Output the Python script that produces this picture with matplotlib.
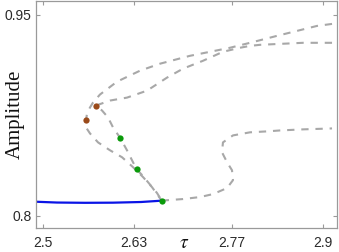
import matplotlib
matplotlib.use("Agg")
import matplotlib.pyplot as plt

# ---- data ----
x_ticks = [2.5, 2.63, 2.77, 2.9]
x_tick_labels = ["2.5", "2.63", "2.77", "2.9"]
y_ticks = [0.8, 0.95]
y_tick_labels = ["0.8", "0.95"]

# stable branch (blue)
blue_x = [2.49, 2.52, 2.56, 2.60, 2.64, 2.6696]
blue_y = [0.8106, 0.8100, 0.8098, 0.8099, 0.8104, 0.8114]

# unstable branches (gray dashed)
# branch 1: upper route -> tip -> left loop -> bottom junction
b1_x = [2.9129, 2.8914, 2.8629, 2.8343, 2.7957, 2.7671, 2.7386, 2.71, 2.6671, 2.6386,
        2.6057, 2.5814, 2.5714, 2.5671, 2.5629, 2.5614, 2.5614, 2.5671, 2.5786, 2.5957,
        2.6129, 2.6286, 2.6429, 2.6557, 2.6696]
b1_y = [0.9433, 0.9418, 0.9381, 0.9344, 0.9292, 0.9255, 0.9225, 0.9195, 0.9136, 0.9084,
        0.9002, 0.8906, 0.8846, 0.8809, 0.8765, 0.8713, 0.8661, 0.8616, 0.8549, 0.8490,
        0.8438, 0.8364, 0.8290, 0.8215, 0.8114]

# branch 2: flat right route -> lower route -> brown point -> through green points -> junction
b2_x = [2.9129, 2.8714, 2.8386, 2.81, 2.7957, 2.7814, 2.7571, 2.7286, 2.70, 2.6771,
        2.6486, 2.62, 2.5957, 2.5757, 2.5843, 2.5929, 2.60, 2.61, 2.62, 2.6271,
        2.6339, 2.6425, 2.65, 2.6629, 2.6696]
b2_y = [0.9292, 0.9292, 0.9284, 0.9277, 0.9269, 0.9255, 0.9225, 0.9158, 0.9099, 0.9032,
        0.8935, 0.8883, 0.8861, 0.8824, 0.8787, 0.8735, 0.8661, 0.8584, 0.8490, 0.8416,
        0.8347, 0.8300, 0.8252, 0.8171, 0.8114]

# branch 3: S-shaped curve to the right
b3_x = [2.6696, 2.6814, 2.70, 2.7243, 2.7429, 2.7629, 2.7714, 2.77, 2.7629, 2.7557,
        2.7571, 2.7714, 2.7957, 2.82, 2.8386, 2.8714, 2.9129]
b3_y = [0.8114, 0.8119, 0.8126, 0.8141, 0.8163, 0.8208, 0.8267, 0.8341, 0.8401, 0.8475,
        0.8549, 0.8601, 0.8624, 0.8631, 0.8638, 0.8646, 0.8653]

green_x = [2.6100, 2.6339, 2.6696]
green_y = [0.8584, 0.8347, 0.8114]
brown_x = [2.5757, 2.5614]
brown_y = [0.8824, 0.8715]

# ---- figure ----
W, H = 339, 252
fig = plt.figure(figsize=(W / 100, H / 100), dpi=100)
ax = fig.add_axes([36 / W, 1 - 228 / H, (337 - 36) / W, (228 - 1) / H])

dash_kw = dict(color="#a8a8a8", lw=1.5, dashes=(3.5, 3.3), solid_capstyle="butt")
for bx, by in [(b1_x, b1_y), (b2_x, b2_y), (b3_x, b3_y)]:
    ax.plot(bx, by, **dash_kw)
ax.plot(blue_x, blue_y, color="#0a14e6", lw=1.6, solid_capstyle="butt")
ax.plot(green_x, green_y, "o", color="#0a9a0a", ms=4.5, mec="none", zorder=5)
ax.plot(brown_x, brown_y, "o", color="#9a4a1a", ms=4.5, mec="none", zorder=5)

ax.set_xlim(2.49, 2.92)
ax.set_ylim(0.791, 0.9604)
ax.set_xticks(x_ticks)
ax.set_xticklabels(x_tick_labels)
ax.set_yticks(y_ticks)
ax.set_yticklabels(y_tick_labels)

for s in ax.spines.values():
    s.set_color("#9a9a9a")
    s.set_linewidth(0.9)
ax.tick_params(direction="in", length=3, width=0.8, color="#9a9a9a",
               top=True, right=True, labelsize=10, labelcolor="#2a2a2a",
               labelfontfamily="Liberation Sans")
ax.tick_params(axis="x", pad=6)
ax.tick_params(axis="y", pad=3)

fig.text(15 / W, 1 - 114 / H, "Amplitude", rotation=90, ha="center", va="center",
         family="Liberation Serif", fontsize=15, color="#111111")
fig.text(184 / W, 1 - 243 / H, r"$\tau$", ha="center", va="center",
         fontsize=14, color="#111111", math_fontfamily="stix")

fig.savefig("out.png", dpi=100)
